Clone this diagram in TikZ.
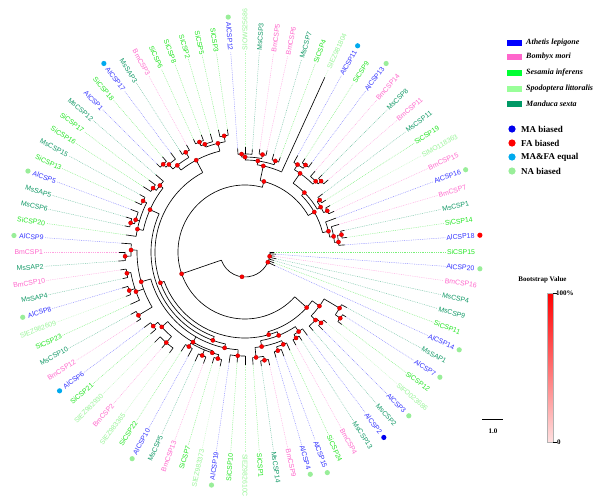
\documentclass[tikz,border=0pt]{standalone}
\usepackage{fontspec}
\setmainfont{Liberation Serif}
\newfontfamily\labfont{Liberation Sans}
\usetikzlibrary{calc}
\definecolor{cAl}{HTML}{3333FF}
\definecolor{cBm}{HTML}{FF66CC}
\definecolor{cSi}{HTML}{22E622}
\definecolor{cSl}{HTML}{99F599}
\definecolor{cMs}{HTML}{119966}
\definecolor{lAl}{HTML}{0000FF}
\definecolor{lBm}{HTML}{FF66CC}
\definecolor{lSi}{HTML}{00FF33}
\definecolor{lSl}{HTML}{99FF99}
\definecolor{lMs}{HTML}{009966}
\definecolor{mMA}{HTML}{0000EE}
\definecolor{mFA}{HTML}{FF0000}
\definecolor{mEQ}{HTML}{00AAEE}
\definecolor{mNA}{HTML}{99EE99}
\tikzset{
  treeline/.style={line width=0.65pt, black},
  bsdot/.style={fill=red, draw=red!70!black, line width=0.3pt},
  dotline/.style={line width=0.45pt, dash pattern=on 0.8pt off 1pt},
  tiplab/.style={font=\labfont\fontsize{6.9}{7}\selectfont, inner sep=0.8pt},
  legtxt/.style={font=\fontsize{8}{9}\selectfont\bfseries\itshape, inner sep=0pt},
  legtxtb/.style={font=\fontsize{9}{10}\selectfont\bfseries, inner sep=0pt},
  smalltxt/.style={font=\fontsize{7}{8}\selectfont\bfseries, inner sep=0pt}
}
\newcommand\TArc[3]{\draw[treeline] (#2:#1pt) arc[start angle=#2,end angle=#3,radius=#1pt];}
\newcommand\TRad[3]{\draw[treeline] (#1:#2pt) -- (#1:#3pt);}
\begin{document}
\begin{tikzpicture}[x=1pt,y=1pt]
\fill[white] (0,0) rectangle (600,-498);
\useasboundingbox (0,0) rectangle (600,-498);
\begin{scope}[shift={(245,-252)}]
% tips, labels, dotted connectors
\foreach \kk/\nme/\spc/\pp/\rr in {
1/SiCSP3/Si/118/124, 2/SiCSP5/Si/118/125, 3/SiCSP2/Si/115/123, 4/SiCSP8/Si/119/125,
5/SiCSP6/Si/119/124, 6/BmCSP3/Bm/116/122, 7/MsSAP3/Ms/116/121, 8/AlCSP17/Al/116/124,
9/SiCSP18/Si/120/126, 10/AlCSP1/Al/120/125, 11/MsCSP12/Ms/108/118, 12/SiCSP17/Si/112/120,
13/SiCSP16/Si/112/121, 14/MsCSP15/Ms/114/120, 15/SiCSP13/Si/114/121, 16/AlCSP5/Al/114/122,
17/MsSAP5/Ms/118/124, 18/MsCSP6/Ms/118/123, 19/SiCSP20/Si/110/120, 20/AlCSP9/Al/114/124,
21/BmCSP1/Bm/120/126, 22/MsSAP2/Ms/120/127, 23/BmCSP10/Bm/120/126, 24/MsSAP4/Ms/120/125,
25/AlCSP8/Al/122/128, 26/SlEZ982609/Sl/122/127, 27/SiCSP23/Si/116/126, 28/MsCSP10/Ms/124/130,
29/BmCSP12/Bm/124/129, 30/AlCSP6/Al/118/126, 31/SiCSP21/Si/118/125, 32/SlEZ982930/Sl/120/128,
33/BmCSP2/Bm/120/127, 34/SlEZ983365/Sl/120/126, 35/SiCSP22/Si/110/118, 36/AlCSP10/Al/110/119,
37/MsCSP5/Ms/112/120, 38/BmCSP13/Bm/112/119, 39/SiCSP7/Si/110/116, 40/SlEZ983373/Sl/110/117,
41/AlCSP19/Al/104/112, 42/SiCSP10/Si/104/111, 43/SlEZ982610C/Sl/104/113, 44/SiCSP1/Si/106/113,
45/MsCSP14/Ms/110/115, 46/BmCSP9/Bm/110/116, 47/AlCSP4/Al/104/110, 48/AlCSP15/Al/104/111,
49/SiCSP24/Si/100/108, 50/BmCSP4/Bm/100/106, 51/MsCSP13/Ms/100/105, 52/AlCSP2/Al/96/104,
53/MsCSP2/Ms/98/104, 54/AlCSP3/Al/104/110, 55/SlFO023686/Sl/104/108, 56/SiCSP12/Si/116/121,
57/AlCSP7/Al/116/120, 58/MsSAP1/Ms/110/116, 59/AlCSP14/Al/25/33, 60/SiCSP11/Si/25/31,
61/MsCSP9/Ms/25/30, 62/MsCSP4/Ms/25/32, 63/BmCSP16/Bm/25/30, 64/AlCSP20/Al/25/31,
65/SiCSP15/Si/25/29, 66/AlCSP18/Al/94/100, 67/SiCSP14/Si/98/103, 68/MsCSP1/Ms/98/102,
69/BmCSP7/Bm/90/98, 70/AlCSP16/Al/86/97, 71/BmCSP15/Bm/92/98, 72/SlMO118363/Sl/92/97,
73/SiCSP19/Si/91/96, 74/MsCSP11/Ms/91/97, 75/BmCSP11/Bm/104/110, 76/MsCSP8/Ms/104/109,
77/BmCSP14/Bm/100/107, 78/AlCSP13/Al/106/112, 79/SiCSP9/Si/106/111, 80/AlCSP11/Al/102/110,
81/SlEZ981804/Sl/88/192, 82/SiCSP4/Si/96/101, 83/MsCSP7/Ms/96/102, 84/BmCSP6/Bm/99/104,
85/BmCSP5/Bm/99/104, 86/MsCSP3/Ms/98/103, 87/SlOW525686/Sl/98/105, 88/AlCSP12/Al/98/104}{
  \pgfmathsetmacro\A{mod((\kk-65)/88*360+720,360)}
  \pgfmathtruncatemacro\R{(\A<=90.5 || \A>=269.5) ? 1 : 0}
  \draw[treeline] (\A:\pp pt) -- (\A:\rr pt);
  \coordinate (t\kk) at (\A:\rr pt);
  \ifnum\R=1
    \node[tiplab, text=c\spc, rotate=\A, anchor=west] (l\kk) at (\A:201pt) {\nme};
    \coordinate (o\kk) at ([shift={(\A:4.5pt)}]l\kk.east);
  \else
    \pgfmathsetmacro\B{\A+180}
    \node[tiplab, text=c\spc, rotate=\B, anchor=east] (l\kk) at (\A:201pt) {\nme};
    \coordinate (o\kk) at ([shift={(\A:4.5pt)}]l\kk.west);
  \fi
  \draw[dotline, draw=c\spc!60!white] (t\kk) -- (l\kk);
}
% expression markers
\foreach \kk/\cc in {88/mNA, 8/mEQ, 16/mNA, 20/mNA, 25/mNA, 30/mEQ, 36/mNA, 41/mNA,
  47/mNA, 48/mNA, 52/mMA, 54/mNA, 57/mNA, 59/mNA, 64/mNA, 66/mFA, 70/mNA, 78/mNA, 80/mEQ}{
  \fill[\cc] (o\kk) circle[radius=2.6pt];
}
% root
\TArc{25}{199}{360}
\TRad{199}{25}{67}
% B
\TArc{67}{75}{318}
% T
\TRad{75}{67}{73} \TArc{73}{30}{78}
\TRad{30}{73}{80} \TArc{80}{14}{45}
\TRad{14}{80}{86} \TArc{86}{10}{20.45}
\TRad{10}{86}{90} \TArc{90}{6.1}{16.36}
\TRad{6.1}{90}{94} \TArc{94}{4.09}{10.2}
\TRad{10.2}{94}{98} \TArc{98}{8.18}{12.27}
\TRad{45}{80}{84} \TArc{84}{30.7}{55}
\TRad{30.7}{84}{88} \TArc{88}{26.6}{34.8}
\TRad{26.6}{88}{92} \TArc{92}{24.55}{28.64}
\TRad{34.8}{88}{91} \TArc{91}{32.73}{36.82}
\TRad{55}{84}{96} \TArc{96}{45}{59}
\TRad{45}{96}{100} \TArc{100}{42.95}{49.09}
\TRad{42.95}{100}{104} \TArc{104}{40.91}{45}
\TRad{59}{96}{102} \TArc{102}{55.2}{61.36}
\TRad{55.2}{102}{106} \TArc{106}{53.18}{57.27}
\TRad{78}{73}{88} \TArc{88}{65.45}{82}
\TRad{82}{88}{92} \TArc{92}{71.6}{90}
\TRad{71.6}{92}{96} \TArc{96}{69.55}{73.64}
\TRad{90}{92}{95} \TArc{95}{79.8}{92}
\TRad{79.8}{95}{99} \TArc{99}{77.73}{81.82}
\TRad{92}{95}{98} \TArc{98}{85.91}{94.09}
% L
\TRad{318}{67}{83} \TArc{83}{286}{324}
\TRad{324}{83}{92} \TArc{92}{316}{329.3}
\TRad{316}{92}{98} \TArc{98}{310.91}{317}
\TRad{317}{98}{104} \TArc{104}{315}{319.09}
\TRad{329.3}{92}{110} \TArc{110}{325.2}{331.36}
\TRad{325.2}{110}{116} \TArc{116}{323.18}{327.27}
\TRad{286}{83}{86} \TArc{86}{200}{292}
\TRad{292}{86}{90} \TArc{90}{280}{304}
\TRad{304}{90}{96} \TArc{96}{300.7}{306.82}
\TRad{300.7}{96}{100} \TArc{100}{298.64}{302.73}
\TRad{280}{90}{96} \TArc{96}{276}{292.5}
\TRad{276}{96}{106} \TArc{106}{274.09}{280.2}
\TRad{280.2}{106}{110} \TArc{110}{278.18}{282.27}
\TRad{292.5}{96}{100} \TArc{100}{288.4}{294.55}
\TRad{288.4}{100}{104} \TArc{104}{286.36}{290.45}
\TRad{200}{86}{90} \TArc{90}{118}{250}
\TRad{118}{90}{104} \TArc{104}{104}{128}
\TRad{104}{104}{112} \TArc{112}{100.2}{110.45}
\TRad{100.2}{112}{118} \TArc{118}{98.18}{102.27}
\TRad{110.45}{112}{115} \TArc{115}{106.36}{112.5}
\TRad{112.5}{115}{119} \TArc{119}{110.45}{114.55}
\TRad{128}{104}{110} \TArc{110}{120.7}{131}
\TRad{120.7}{110}{116} \TArc{116}{118.64}{122.73}
\TRad{131}{110}{116} \TArc{116}{126.82}{133}
\TRad{133}{116}{120} \TArc{120}{130.91}{135}
\TRad{250}{90}{94} \TArc{94}{156}{258}
\TRad{156}{94}{104} \TArc{104}{142}{168}
\TRad{142}{104}{108} \TArc{108}{139.09}{145.2}
\TRad{145.2}{108}{112} \TArc{112}{143.18}{147.27}
\TRad{168}{104}{110} \TArc{110}{153.4}{171.82}
\TRad{153.4}{110}{114} \TArc{114}{151.36}{155.45}
\TRad{163.6}{110}{114} \TArc{114}{159.55}{165.7}
\TRad{165.7}{114}{118} \TArc{118}{163.64}{167.73}
\TRad{258}{94}{98} \TArc{98}{196}{266}
\TRad{196}{98}{108} \TArc{108}{179}{210.7}
\TRad{179}{108}{114} \TArc{114}{175.91}{182.05}
\TRad{182.05}{114}{120} \TArc{120}{180}{184.09}
\TRad{200}{108}{116} \TArc{116}{190.2}{204.55}
\TRad{190.2}{116}{120} \TArc{120}{188.18}{192.27}
\TRad{198.4}{116}{122} \TArc{122}{196.36}{200.45}
\TRad{210.7}{108}{124} \TArc{124}{208.64}{212.73}
\TRad{240}{98}{104} \TArc{104}{222}{252}
\TRad{222}{104}{112} \TArc{112}{218.9}{229}
\TRad{218.9}{112}{118} \TArc{118}{216.82}{220.91}
\TRad{229}{112}{120} \TArc{120}{225}{233.18}
\TRad{252}{104}{106} \TArc{106}{239.3}{255.7}
\TRad{239.3}{106}{110} \TArc{110}{237.27}{241.36}
\TRad{247.5}{106}{112} \TArc{112}{245.45}{249.55}
\TRad{255.7}{106}{110} \TArc{110}{253.64}{257.73}
\TRad{266}{98}{104} \TArc{104}{261.82}{270}
% bootstrap dots on nodes
\foreach \a/\r in {263/25, 336/25, 350/25, 199/67, 75/73, 30/80, 14/86, 10/90, 6.1/94, 10.2/98,
 45/84, 30.7/88, 26.6/92, 34.8/91, 55/96, 45/100, 42.95/104, 59/102, 55.2/106, 78/88, 82/92,
 71.6/96, 90/95, 79.8/99, 92/98, 318/83, 324/92, 316/98, 317/104, 329.3/110, 325.2/116,
 286/86, 292/90, 304/96, 300.7/100, 280/96, 276/106, 280.2/110, 292.5/100, 288.4/104,
 200/90, 118/104, 104/112, 100.2/118, 110.45/115, 112.5/119, 128/110, 120.7/116, 131/116,
 133/120, 250/94, 156/104, 142/108, 145.2/112, 168/110, 153.4/114, 163.6/114, 165.7/118,
 258/98, 196/108, 179/114, 182.05/120, 200/116, 190.2/120, 198.4/122, 210.7/124, 240/104,
 222/112, 218.9/118, 229/120, 252/106, 239.3/110, 247.5/112, 255.7/110, 266/104}{
  \filldraw[bsdot] (\a:\r pt) circle[radius=2.1pt];
}
\end{scope}
% species legend
\foreach \y/\c/\t in {43/lAl/Athetis lepigone, 57/lBm/Bombyx mori, 73/lSi/Sesamia inferens,
  89/lSl/Spodoptera littoralis, 104/lMs/Manduca sexta}{
  \fill[\c] (507,-\y-3.3) rectangle (522,-\y+3.3);
  \node[legtxt, anchor=west] (sp\y) at (526,-\y) {\t};
}
% expression legend
\foreach \y/\c/\t in {129/mMA/MA biased, 143/mFA/FA biased, 157/mEQ/MA\&FA equal, 171/mNA/NA biased}{
  \fill[\c] (512,-\y) circle[radius=3.6pt];
  \node[legtxtb, anchor=west] (ex\y) at (521,-\y) {\t};
}
% scale bar
\coordinate (sb1) at (482,-419);
\coordinate (sb2) at (503,-419);
\draw[line width=1pt] (sb1) -- (sb2);
\node[smalltxt] (sbl) at (493,-431) {1.0};
% bootstrap colour bar
\shade[top color=red, bottom color=red!12] (547,-293) rectangle (553,-442);
\draw[gray!60, line width=0.3pt] (547,-293) rectangle (553,-442);
\draw[line width=0.5pt] (553,-293) -- (557,-293);
\draw[line width=0.5pt] (553,-442) -- (557,-442);
\node[smalltxt, anchor=west] (bmax) at (556,-293) {100\%};
\node[smalltxt, anchor=west] (bmin) at (557,-442) {0};
\node[smalltxt] (btitle) at (542.5,-280) {Bootstrap Value};
\end{tikzpicture}
\end{document}
